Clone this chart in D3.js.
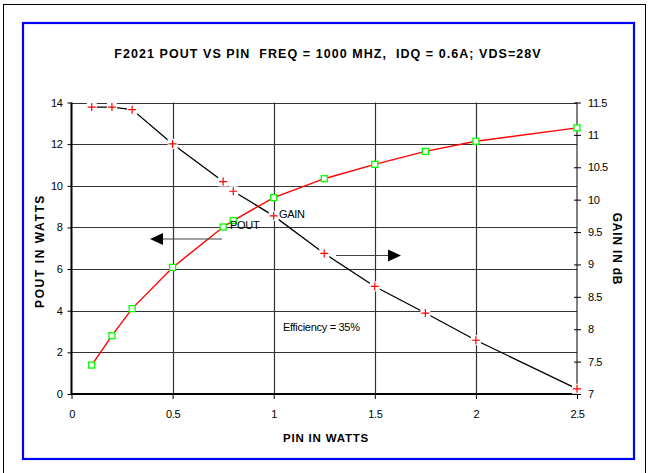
<!DOCTYPE html>
<html>
<head>
<meta charset="utf-8">
<script src="https://cdn.jsdelivr.net/npm/d3@7"></script>
<style>
body { margin: 0; background: #fff; }
svg { font-family: "Liberation Sans", Arial, sans-serif; }
.tick text { font-size: 11px; fill: #000; }
</style>
</head>
<body>
<script>
// PIN in watts
var pin = [0.1, 0.2, 0.3, 0.5, 0.75, 0.8, 1.0, 1.25, 1.5, 1.75, 2.0, 2.5];
// output power in watts (left axis)
var pout = [1.39, 2.8, 4.1, 6.08, 8.02, 8.33, 9.43, 10.34, 11.03, 11.65, 12.14, 12.78];
// gain in dB (right axis)
var gain = [11.43, 11.43, 11.39, 10.86, 10.28, 10.13, 9.75, 9.17, 8.66, 8.25, 7.83, 7.08];

var xTicks = [0, 0.5, 1, 1.5, 2, 2.5];
var yTicks = [0, 2, 4, 6, 8, 10, 12, 14];
var y2Ticks = [7, 7.5, 8, 8.5, 9, 9.5, 10, 10.5, 11, 11.5];

var svg = d3.select("body").append("svg")
	.attr("width", 649)
	.attr("height", 473);

// outer frame and blue chart border
svg.append("rect").attr("x", 3.5).attr("y", 4.5).attr("width", 642).attr("height", 480)
	.style("fill", "none").style("stroke", "#000").style("stroke-width", 1);
svg.append("rect").attr("x", 23).attr("y", 23).attr("width", 611).attr("height", 436)
	.style("fill", "#fff").style("stroke", "#0000ff").style("stroke-width", 2.2);

var pLeft = 71.5, pRight = 577, pTop = 102.5, pBottom = 394;

var x = d3.scaleLinear().domain([0, 2.5]).range([pLeft, pRight]);
var y = d3.scaleLinear().domain([0, 14]).range([pBottom, pTop]);
var y2 = d3.scaleLinear().domain([7, 11.5]).range([pBottom, pTop]);

// grid
svg.append("g").selectAll("line").data(yTicks.slice(1))
	.enter().append("line")
	.attr("x1", pLeft).attr("x2", pRight)
	.attr("y1", function(d){ return Math.round(y(d)) + 0.5; })
	.attr("y2", function(d){ return Math.round(y(d)) + 0.5; })
	.style("stroke", "#333").style("stroke-width", 1.2);
svg.append("g").selectAll("line").data(xTicks.slice(1, 5))
	.enter().append("line")
	.attr("y1", pTop).attr("y2", pBottom)
	.attr("x1", function(d){ return Math.round(x(d)) + 0.5; })
	.attr("x2", function(d){ return Math.round(x(d)) + 0.5; })
	.style("stroke", "#333").style("stroke-width", 1.2);

// axes
var xAxis = svg.append("g").attr("transform", "translate(0," + pBottom + ")")
	.call(d3.axisBottom(x).tickValues(xTicks).tickSize(5).tickPadding(11)
		.tickFormat(function(d){ return d; }));
var yAxis = svg.append("g").attr("transform", "translate(" + pLeft + ",0)")
	.call(d3.axisLeft(y).tickValues(yTicks).tickSize(4).tickPadding(5));
var y2Axis = svg.append("g").attr("transform", "translate(" + pRight + ",0)")
	.call(d3.axisRight(y2).tickValues(y2Ticks).tickSize(4).tickPadding(7)
		.tickFormat(function(d){ return d; }));
y2Axis.selectAll(".tick line").attr("x1", -3);

[xAxis, yAxis, y2Axis].forEach(function(a){
	a.attr("font-family", null).attr("font-size", null);
	a.selectAll(".tick line").style("stroke", "#000");
	a.selectAll(".tick text").style("letter-spacing", "-0.4px");
});
xAxis.select(".domain").style("stroke-width", 2.2);
yAxis.select(".domain").style("stroke-width", 2);
xAxis.select(".domain").attr("d", "M" + pLeft + ",0H" + pRight);
yAxis.select(".domain").attr("d", "M0," + (pBottom + 1) + "V" + pTop);
y2Axis.select(".domain").attr("d", "M0," + pBottom + "V" + pTop);

// gain line (black) with red plus markers
var gainLine = d3.line().x(function(d, i){ return x(pin[i]); }).y(function(d){ return y2(d); });
svg.append("path").datum(gain).attr("d", gainLine)
	.style("fill", "none").style("stroke", "#000").style("stroke-width", 1.3);
var gm = svg.append("g").selectAll("g").data(gain).enter().append("g")
	.attr("transform", function(d, i){ return "translate(" + x(pin[i]) + "," + y2(d) + ")"; });
gm.append("rect").attr("x", -5).attr("y", -5).attr("width", 10).attr("height", 10).style("fill", "#fff");
gm.append("path").attr("d", "M-4,0H4M0,-4V4").style("stroke", "#ff0000").style("stroke-width", 1.2);

// pout line (red) with green square markers
var poutLine = d3.line().x(function(d, i){ return x(pin[i]); }).y(function(d){ return y(d); });
svg.append("path").datum(pout).attr("d", poutLine)
	.style("fill", "none").style("stroke", "#ff0000").style("stroke-width", 1.4);
svg.append("g").selectAll("rect").data(pout).enter().append("rect")
	.attr("x", function(d, i){ return x(pin[i]) - 3; })
	.attr("y", function(d){ return y(d) - 3; })
	.attr("width", 6).attr("height", 6)
	.style("fill", "#fff").style("stroke", "#00ff00").style("stroke-width", 1.3);

// annotations
function note(tx, ty, s, size) {
	svg.append("text").attr("x", tx).attr("y", ty).text(s)
		.style("font-size", size + "px").style("letter-spacing", "-0.3px");
}
note(230, 229, "POUT", 11);
note(279, 218, "GAIN", 11);
note(283, 331, "Efficiency = 35%", 11);

// arrows
svg.append("line").attr("x1", 222).attr("x2", 160).attr("y1", 239).attr("y2", 239)
	.style("stroke", "#444").style("stroke-width", 1.2);
svg.append("path").attr("d", "M150,239L163,233L163,245Z").style("fill", "#000");
svg.append("line").attr("x1", 336).attr("x2", 390).attr("y1", 255.5).attr("y2", 255.5)
	.style("stroke", "#444").style("stroke-width", 1.2);
svg.append("path").attr("d", "M401,255.5L388,249.5L388,261.5Z").style("fill", "#000");

// titles
svg.append("text").attr("x", 328).attr("y", 58).attr("text-anchor", "middle")
	.style("font-size", "12.5px").style("font-weight", "bold").style("white-space", "pre")
	.style("letter-spacing", "1.05px")
	.text("F2021 POUT VS PIN  FREQ = 1000 MHZ,  IDQ = 0.6A; VDS=28V");
svg.append("text").attr("x", 326).attr("y", 442).attr("text-anchor", "middle")
	.style("font-size", "11.5px").style("font-weight", "bold").style("letter-spacing", "0.8px")
	.text("PIN IN WATTS");
svg.append("text").attr("transform", "translate(43.5,251) rotate(-90)").attr("text-anchor", "middle")
	.style("font-size", "12px").style("font-weight", "bold").style("letter-spacing", "1.6px")
	.text("POUT IN WATTS");
svg.append("text").attr("transform", "translate(613,249) rotate(90)").attr("text-anchor", "middle")
	.style("font-size", "12px").style("font-weight", "bold").style("letter-spacing", "0.8px")
	.text("GAIN IN dB");
</script>
</body>
</html>
